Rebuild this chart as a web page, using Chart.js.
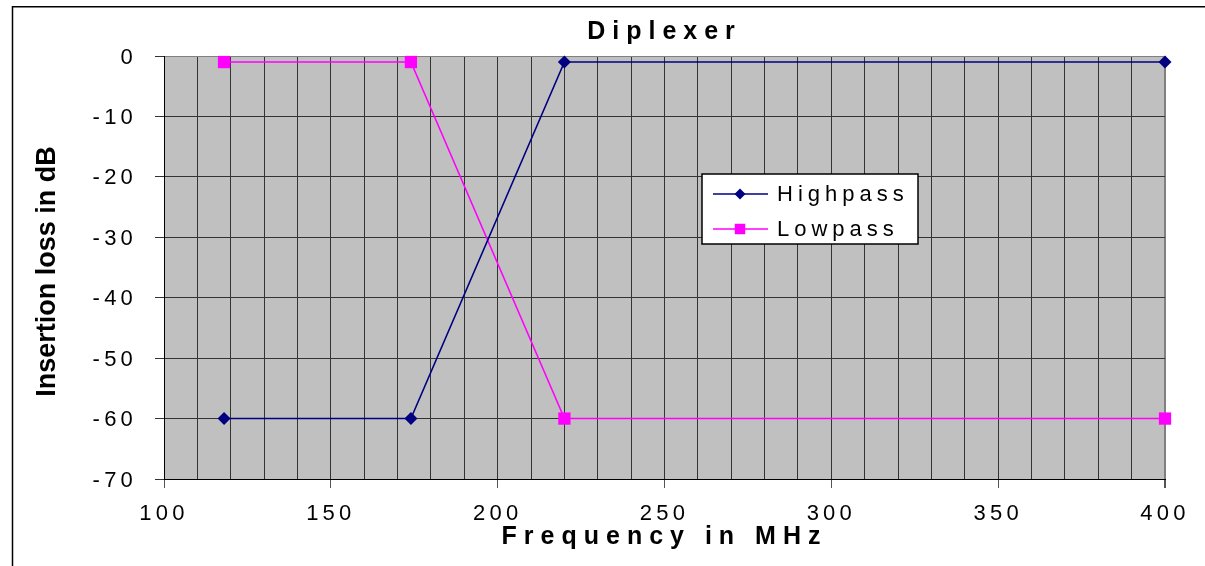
<!DOCTYPE html>
<html>
<head>
<meta charset="utf-8">
<script src="https://cdn.jsdelivr.net/npm/chart.js@4.4.0/dist/chart.umd.min.js"></script>
<style>
  html, body { margin: 0; padding: 0; background: #fff; overflow: hidden; }
  #wrap { position: relative; width: 1205px; height: 566px; }
</style>
</head>
<body>
<div id="wrap"><canvas id="myChart"></canvas></div>
<script>
const frequencies = [118, 174, 220, 400];
const highpassLoss = [-60, -60, -1, -1];
const lowpassLoss = [-1, -1, -60, -60];
const xTickLabels = [100, 150, 200, 250, 300, 350, 400];
const yTickLabels = [0, -10, -20, -30, -40, -50, -60, -70];

const FONT = '"Liberation Sans", Arial, sans-serif';
Chart.defaults.font.family = FONT;
Chart.defaults.color = '#000';

const toPoints = (xs, ys) => xs.map((x, i) => ({ x, y: ys[i] }));

// grey plot area, spaced text, y title, legend box and frame
const plotStyle = {
  id: 'plotStyle',
  beforeDraw(chart) {
    const { ctx, chartArea: a } = chart;
    // wide spacing for chart title + x axis title
    ctx.letterSpacing = '7px';
    ctx.save();
    ctx.fillStyle = '#c0c0c0';
    ctx.fillRect(a.left, a.top, a.right - a.left, a.bottom - a.top);
    ctx.restore();
  },
  afterDatasetsDraw(chart) {
    // tick labels are drawn after this (ticks.z = 1)
    chart.ctx.letterSpacing = '4.2px';
  },
  afterDraw(chart) {
    const { ctx, chartArea: a } = chart;

    ctx.save();
    ctx.letterSpacing = '0px';
    ctx.font = 'bold 27px ' + FONT;
    ctx.fillStyle = '#000';
    ctx.textAlign = 'center';
    ctx.textBaseline = 'middle';
    ctx.translate(47.5, (a.top + a.bottom) / 2 + 4);
    ctx.rotate(-Math.PI / 2);
    ctx.fillText('Insertion loss in dB', 0, 0);
    ctx.restore();

    // legend
    const lx = a.left + 538, ly = a.top + 118, lw = 216, lh = 70;
    ctx.save();
    ctx.fillStyle = '#fff';
    ctx.fillRect(lx, ly, lw, lh);
    ctx.strokeStyle = '#000';
    ctx.lineWidth = 1.5;
    ctx.strokeRect(lx, ly, lw, lh);
    chart.data.datasets.forEach((ds, i) => {
      const cy = ly + 20 + i * 35;
      ctx.strokeStyle = ds.borderColor;
      ctx.lineWidth = ds.borderWidth;
      ctx.beginPath();
      ctx.moveTo(lx + 11, cy);
      ctx.lineTo(lx + 66, cy);
      ctx.stroke();
      ctx.fillStyle = ds.pointBackgroundColor;
      Chart.helpers.drawPoint(ctx, { pointStyle: ds.pointStyle, radius: ds.pointRadius * 0.85, rotation: 0, borderWidth: 0 }, lx + 38, cy);
      ctx.fillStyle = '#000';
      ctx.letterSpacing = '5px';
      ctx.font = '22px ' + FONT;
      ctx.textAlign = 'left';
      ctx.textBaseline = 'middle';
      ctx.fillText(ds.label, lx + 75, cy + 1);
    });
    ctx.restore();

    // outer chart frame
    ctx.save();
    ctx.strokeStyle = '#000';
    ctx.lineWidth = 1.5;
    ctx.beginPath();
    ctx.moveTo(12.5, 566);
    ctx.lineTo(12.5, 6.75);
    ctx.lineTo(1205, 6.75);
    ctx.stroke();
    ctx.restore();
  }
};

new Chart(document.getElementById('myChart').getContext('2d'), {
  type: 'line',
  data: {
    datasets: [{
      label: 'Highpass',
      data: toPoints(frequencies, highpassLoss),
      borderColor: '#000080',
      backgroundColor: '#000080',
      pointBackgroundColor: '#000080',
      pointStyle: 'rectRot',
      pointRadius: 6.5,
      pointBorderWidth: 0,
      borderWidth: 1.6,
      clip: false
    }, {
      label: 'Lowpass',
      data: toPoints(frequencies, lowpassLoss),
      borderColor: '#ff00ff',
      backgroundColor: '#ff00ff',
      pointBackgroundColor: '#ff00ff',
      pointStyle: 'rect',
      pointRadius: 8.7,
      pointBorderWidth: 0,
      borderWidth: 1.6,
      clip: false
    }]
  },
  options: {
    responsive: true,
    maintainAspectRatio: false,
    animation: false,
    events: [],
    layout: { padding: { left: 0, right: 40, top: 0, bottom: 0 } },
    scales: {
      x: {
        type: 'linear',
        min: 100,
        max: 400,
        afterFit: s => { s.height = 87; },
        ticks: {
          z: 1,
          stepSize: 10,
          autoSkip: false,
          maxRotation: 0,
          minRotation: 0,
          padding: 13,
          font: { size: 22 },
          callback: v => xTickLabels.includes(v) ? String(v) : ''
        },
        grid: {
          color: c => c.tick && c.tick.value === 400 ? '#808080' : '#333',
          lineWidth: c => c.tick && c.tick.value === 400 ? 2 : 1,
          tickLength: 9,
          tickColor: c => c.tick && xTickLabels.includes(c.tick.value) ? '#555' : 'rgba(0,0,0,0)'
        },
        border: { color: '#000', width: 1 },
        title: {
          display: true,
          text: 'Frequency in MHz',
          font: { size: 25, weight: 'bold' },
          padding: { top: 0, bottom: 13.5 }
        }
      },
      y: {
        min: -70,
        max: 0,
        afterFit: s => { s.width = 164; },
        ticks: {
          z: 1,
          stepSize: 10,
          padding: 18,
          labelOffset: 1.5,
          font: { size: 22 },
          callback: v => yTickLabels.includes(v) ? String(v) : ''
        },
        grid: {
          color: c => c.tick && c.tick.value === 0 ? '#808080' : '#333',
          tickLength: 9,
          tickColor: '#333'
        },
        border: { color: '#000', width: 1 }
      }
    },
    plugins: {
      legend: { display: false },
      tooltip: { enabled: false },
      title: {
        display: true,
        text: 'Diplexer',
        fullSize: false,
        font: { size: 25, weight: 'bold' },
        padding: { top: 17.5, bottom: 8.5 }
      }
    }
  },
  plugins: [plotStyle]
});
</script>
</body>
</html>
